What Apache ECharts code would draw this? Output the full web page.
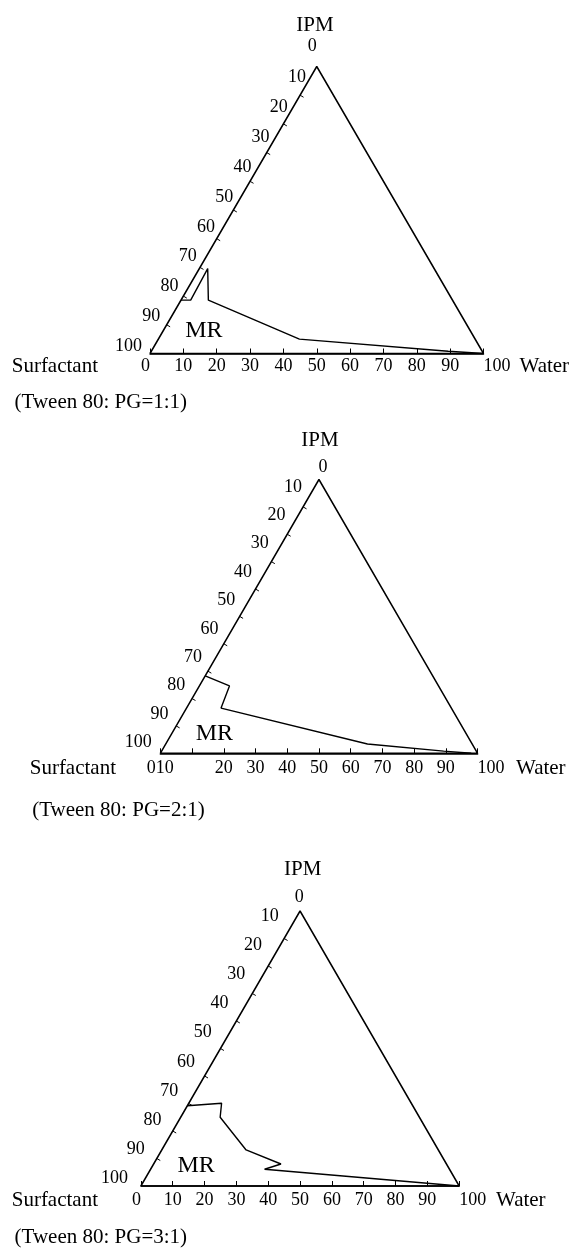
<!DOCTYPE html>
<html><head><meta charset="utf-8">
<script src="https://cdn.jsdelivr.net/npm/echarts@6/dist/echarts.min.js"></script>
<style>html,body{margin:0;padding:0;background:#fff}#c{width:572px;height:1249px}</style>
</head><body><div id="c"></div>
<script>
// ---------- data ----------
const vertexNames = ['Surfactant', 'Water', 'IPM'];
const captions = ['(Tween 80: PG=1:1)', '(Tween 80: PG=2:1)', '(Tween 80: PG=3:1)'];
const apexLabel = '0';
const regionLabel = 'MR';
const bottomLabels1 = ['0','10','20','30','40','50','60','70','80','90','100'];
const bottomLabels2 = ['010','','20','30','40','50','60','70','80','90','100'];
const bottomLabels3 = ['0','10','20','30','40','50','60','70','80','90','100'];
const leftTickValues = [10,20,30,40,50,60,70,80,90];
const leftLabelValues = [10,20,30,40,50,60,70,80,90,100];
// MR boundary as compositions: water %, IPM % (surfactant = remainder)
const mr1Water = [0, 2.9, 2.5, 8.2, 42.3, 89.0, 100];
const mr1Ipm   = [18.6, 18.6, 29.6, 18.6, 5.0, 0.8, 0];
const mr2Water = [0, 9.5, 10.9, 63.6, 88.9, 98];
const mr2Ipm   = [28.3, 24.6, 16.5, 3.4, 0.8, 0];
const mr3Water = [0, 10.3, 12.4, 26.5, 40.0, 35.8, 100];
const mr3Ipm   = [29.2, 30.1, 25.0, 13.1, 8.0, 6.1, 0];
// where the "MR" text sits (composition)
const mrTextWater = [12.2, 13.4, 13.7];
const mrTextIpm   = [7.9, 7.3, 7.3];
// triangle vertices: Surfactant, Water, IPM, back to Surfactant (water %, IPM %)
const triWater = [0, 100, 0, 0];
const triIpm   = [0, 0, 100, 0];

// ---------- layout / style ----------
const FONT = '"Liberation Serif", "Times New Roman", serif';
const layouts = [
  {left:150, top:66.5, width:333.5, height:287, ipmOff:[-1.75,-41.5], zeroOff:[-4.5,-19.8],
   surfOff:[-52,13], waterOff:[36,13], capOff:[-135.4,49], lblTop:[6,-18], lblBot:[-8,-7],
   minAlign:'right', maxAlign:'left', margin:4},
  {left:160.3, top:479.5, width:317.3, height:273.8, ipmOff:[1,-39.5], zeroOff:[4,-11.8],
   surfOff:[-44.3,15], waterOff:[38.4,15], capOff:[-128.1,56.7], lblTop:[-1,-20], lblBot:[-8.5,-11],
   minAlign:'center', maxAlign:'left', margin:6},
  {left:140.9, top:911, width:318.3, height:275, ipmOff:[2.7,-41.7], zeroOff:[-0.7,-13.7],
   surfOff:[-42.9,14], waterOff:[36.8,14], capOff:[-126.3,51], lblTop:[-5.5,-22.5], lblBot:[-13,-7.5],
   minAlign:'right', maxAlign:'left', margin:5}
];
const bottomLabels = [bottomLabels1, bottomLabels2, bottomLabels3];
const mrWater = [mr1Water, mr2Water, mr3Water];
const mrIpm = [mr1Ipm, mr2Ipm, mr3Ipm];

function toXY(w, i) { return [w + i / 2, i]; }

const grid = [], xAxis = [], yAxis = [], series = [];
layouts.forEach((L, k) => {
  grid.push({left: L.left, top: L.top, width: L.width, height: L.height});
  xAxis.push({
    gridIndex: k, type: 'value', min: 0, max: 100, interval: 10,
    axisLine: {show: true, lineStyle: {color: '#000', width: 1.5}},
    axisTick: {show: true, inside: true, length: 5, lineStyle: {color: '#000', width: 1}},
    splitLine: {show: false},
    axisLabel: {
      show: true, color: '#000', fontSize: 18, fontFamily: FONT, margin: L.margin,
      alignMinLabel: L.minAlign, alignMaxLabel: L.maxAlign,
      showMinLabel: true, showMaxLabel: true,
      formatter: v => bottomLabels[k][Math.round(v / 10)]
    }
  });
  yAxis.push({gridIndex: k, type: 'value', min: 0, max: 100, show: false});

  // triangle
  series.push({
    type: 'line', xAxisIndex: k, yAxisIndex: k, clip: false, silent: true,
    symbol: 'none', lineStyle: {color: '#000', width: 1.5},
    data: triWater.map((w, j) => toXY(w, triIpm[j]))
  });
  // MR boundary
  series.push({
    type: 'line', xAxisIndex: k, yAxisIndex: k, clip: false, silent: true,
    symbol: 'none', lineStyle: {color: '#000', width: 1.4},
    data: mrWater[k].map((w, j) => toXY(w, mrIpm[k][j]))
  });
  // MR text
  series.push({
    type: 'custom', xAxisIndex: k, yAxisIndex: k, clip: false, silent: true,
    data: [toXY(mrTextWater[k], mrTextIpm[k])],
    renderItem: (params, api) => {
      const p = api.coord([api.value(0), api.value(1)]);
      return {type: 'text', x: p[0], y: p[1],
        style: {text: regionLabel, fill: '#000', fontSize: 24, fontFamily: FONT, align: 'center', verticalAlign: 'middle'}};
    }
  });
  // left edge ticks and labels (value v: 0 at apex, 100 at surfactant corner)
  series.push({
    type: 'custom', xAxisIndex: k, yAxisIndex: k, clip: false, silent: true,
    data: leftLabelValues.map(v => toXY(0, 100 - v).concat([v])),
    renderItem: (params, api) => {
      const v = api.value(2);
      const p = api.coord([api.value(0), api.value(1)]);
      const ap = api.coord(toXY(0, 100)), bl = api.coord(toXY(0, 0));
      const ex = ap[0] - bl[0], ey = ap[1] - bl[1], len = Math.hypot(ex, ey);
      const nx = -ey / len, ny = ex / len;
      const t = (v / 100 - 0.1) / 0.9;
      const dx = L.lblTop[0] + t * (L.lblBot[0] - L.lblTop[0]);
      const dy = L.lblTop[1] + t * (L.lblBot[1] - L.lblTop[1]);
      const ch = [{type: 'text', x: p[0] + dx, y: p[1] + dy,
        style: {text: String(v), fill: '#000', fontSize: 18, fontFamily: FONT, align: 'right', verticalAlign: 'middle'}}];
      if (leftTickValues.indexOf(v) >= 0) {
        ch.push({type: 'line', shape: {x1: p[0], y1: p[1], x2: p[0] + nx * 4, y2: p[1] + ny * 4},
          style: {stroke: '#000', lineWidth: 1}});
      }
      return {type: 'group', children: ch};
    }
  });
  // names and caption
  series.push({
    type: 'custom', xAxisIndex: k, yAxisIndex: k, clip: false, silent: true,
    data: [[0, 0]],
    renderItem: (params, api) => {
      const bl = api.coord(toXY(0, 0)), br = api.coord(toXY(100, 0)), ap = api.coord(toXY(0, 100));
      const txt = (x, y, text, size, align) => ({type: 'text', x, y,
        style: {text, fill: '#000', fontSize: size, fontFamily: FONT, align, verticalAlign: 'middle'}});
      return {type: 'group', children: [
        txt(ap[0] + L.ipmOff[0], ap[1] + L.ipmOff[1], vertexNames[2], 21, 'center'),
        txt(ap[0] + L.zeroOff[0], ap[1] + L.zeroOff[1], apexLabel, 18, 'center'),
        txt(bl[0] + L.surfOff[0], bl[1] + L.surfOff[1], vertexNames[0], 21, 'right'),
        txt(br[0] + L.waterOff[0], br[1] + L.waterOff[1], vertexNames[1], 21, 'left'),
        txt(bl[0] + L.capOff[0], bl[1] + L.capOff[1], captions[k], 21, 'left')
      ]};
    }
  });
});

const chart = echarts.init(document.getElementById('c'), null, {renderer: 'canvas'});
chart.setOption({backgroundColor: '#fff', animation: false, grid, xAxis, yAxis, series});
</script></body></html>
